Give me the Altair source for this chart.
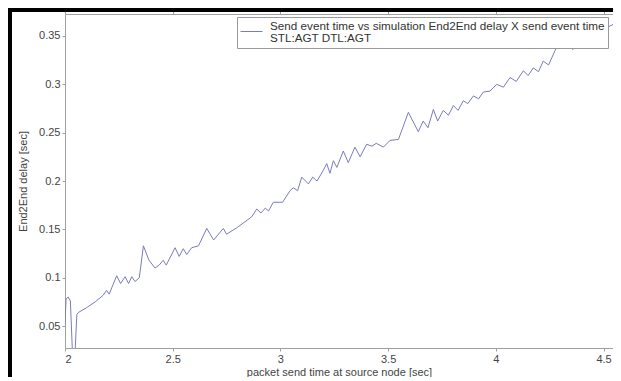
import altair as alt
import pandas as pd

# packet send time at source node [sec]
send_time = [2.000, 2.005, 2.015, 2.025, 2.035, 2.045, 2.055, 2.062, 2.10, 2.14,
             2.178, 2.193, 2.205, 2.240, 2.258, 2.279, 2.295, 2.310, 2.325, 2.345,
             2.364, 2.390, 2.418, 2.437, 2.456, 2.470, 2.511, 2.530, 2.549, 2.565,
             2.588, 2.620, 2.658, 2.690, 2.735, 2.750, 2.800, 2.867, 2.890, 2.910,
             2.930, 2.945, 2.967, 3.010, 3.045, 3.060, 3.080, 3.099, 3.130, 3.150,
             3.170, 3.199, 3.215, 3.230, 3.246, 3.262, 3.292, 3.315, 3.346, 3.370,
             3.400, 3.425, 3.445, 3.478, 3.509, 3.548, 3.594, 3.640, 3.663, 3.685,
             3.710, 3.730, 3.756, 3.780, 3.803, 3.825, 3.849, 3.870, 3.896, 3.920,
             3.942, 3.973, 4.004, 4.035, 4.066, 4.095, 4.128, 4.150, 4.174, 4.198,
             4.220, 4.245, 4.275, 4.298, 4.330, 4.358, 4.390, 4.420, 4.450, 4.480,
             4.510, 4.545]
# End2End delay [sec]
delay = [0.052, 0.078, 0.080, 0.076, 0.020, 0.015, 0.062, 0.064, 0.069, 0.075,
         0.082, 0.087, 0.083, 0.102, 0.094, 0.101, 0.094, 0.101, 0.096, 0.100,
         0.133, 0.118, 0.110, 0.113, 0.118, 0.113, 0.131, 0.122, 0.130, 0.124,
         0.131, 0.133, 0.151, 0.139, 0.151, 0.145, 0.152, 0.163, 0.171, 0.167,
         0.172, 0.169, 0.178, 0.178, 0.190, 0.193, 0.190, 0.204, 0.197, 0.204,
         0.200, 0.211, 0.218, 0.208, 0.221, 0.214, 0.231, 0.219, 0.235, 0.225,
         0.238, 0.236, 0.239, 0.235, 0.242, 0.243, 0.271, 0.251, 0.262, 0.255,
         0.274, 0.262, 0.273, 0.268, 0.278, 0.273, 0.283, 0.280, 0.288, 0.285,
         0.292, 0.293, 0.300, 0.297, 0.307, 0.303, 0.314, 0.309, 0.317, 0.313,
         0.324, 0.320, 0.335, 0.345, 0.340, 0.336, 0.345, 0.348, 0.352, 0.355,
         0.358, 0.362]

series_name = "Send event time vs simulation End2End delay X send event time\nSTL:AGT DTL:AGT"
x_ticks = [2, 2.5, 3, 3.5, 4, 4.5]
y_ticks = [0.05, 0.1, 0.15, 0.2, 0.25, 0.3, 0.35]

df = pd.DataFrame({"t": send_time, "d": delay, "s": series_name})

FONT = "Liberation Sans"
AX = "#a0a0a0"
LBL = "#444444"
LINE = "#7b7bbf"
DY = -6  # lifts the two-line legend label so it is centred on its symbol

xscale = alt.Scale(domain=[2, 4.544], nice=False, zero=False)
yscale = alt.Scale(domain=[0.0273, 0.3727], nice=False, zero=False)

line = alt.Chart(df).mark_line(strokeWidth=1, clip=True).encode(
    x=alt.X("t:Q", scale=xscale,
            axis=alt.Axis(orient="bottom", values=x_ticks, format="~g", grid=False,
                          labelPadding=2 - DY,
                          title="packet send time at source node [sec]",
                          titlePadding=2)),
    y=alt.Y("d:Q", scale=yscale,
            axis=alt.Axis(values=y_ticks, format="~g", grid=False,
                          labelOffset=-DY,
                          title="End2End delay [sec]", titlePadding=10)),
    color=alt.Color("s:N", scale=alt.Scale(domain=[series_name], range=[LINE]),
                    legend=alt.Legend(
                        title=None, orient="none", legendX=172, legendY=3,
                        strokeColor="#999999", fillColor="white", padding=3,
                        symbolType="stroke", symbolStrokeWidth=1, symbolSize=484,
                        labelFont=FONT, labelFontSize=11.7, labelColor="#333333",
                        labelLimit=1000, labelOffset=7,
                        labelBaseline="middle",
                        labelExpr="split(datum.label, '\\n')")),
)

top_axis = alt.Chart(df).mark_line(opacity=0).encode(
    x=alt.X("t:Q", scale=xscale,
            axis=alt.Axis(orient="top", values=x_ticks, labels=False, title=None,
                          grid=False)),
    y=alt.Y("d:Q", scale=yscale),
)

frame = pd.DataFrame({"k": [0]})
top_bar = alt.Chart(frame).mark_rule(color="black", strokeWidth=4).encode(
    x=alt.value(-57), x2=alt.value(548), y=alt.value(-4))
left_bar = alt.Chart(frame).mark_rule(color="black", strokeWidth=4).encode(
    x=alt.value(-55), y=alt.value(-6), y2=alt.value(370))

chart = alt.layer(line, top_axis, top_bar, left_bar).resolve_axis(
    x="independent"
).properties(
    width=548, height=334,
    padding={"left": 57, "top": 6, "right": 0, "bottom": 29},
    autosize=alt.AutoSizeParams(type="none"),
    background="white",
).configure(
    style={"guide-label": {"lineHeight": 12.5, "dy": DY}}
).configure_view(stroke=None).configure_axis(
    domainColor=AX, tickColor=AX, tickSize=3, labelPadding=2,
    labelFont=FONT, labelFontSize=11, labelColor=LBL,
    titleFont=FONT, titleFontSize=11, titleColor=LBL, titleFontWeight="normal",
)

chart.save("out.html", embed_options={"renderer": "svg", "actions": False})
